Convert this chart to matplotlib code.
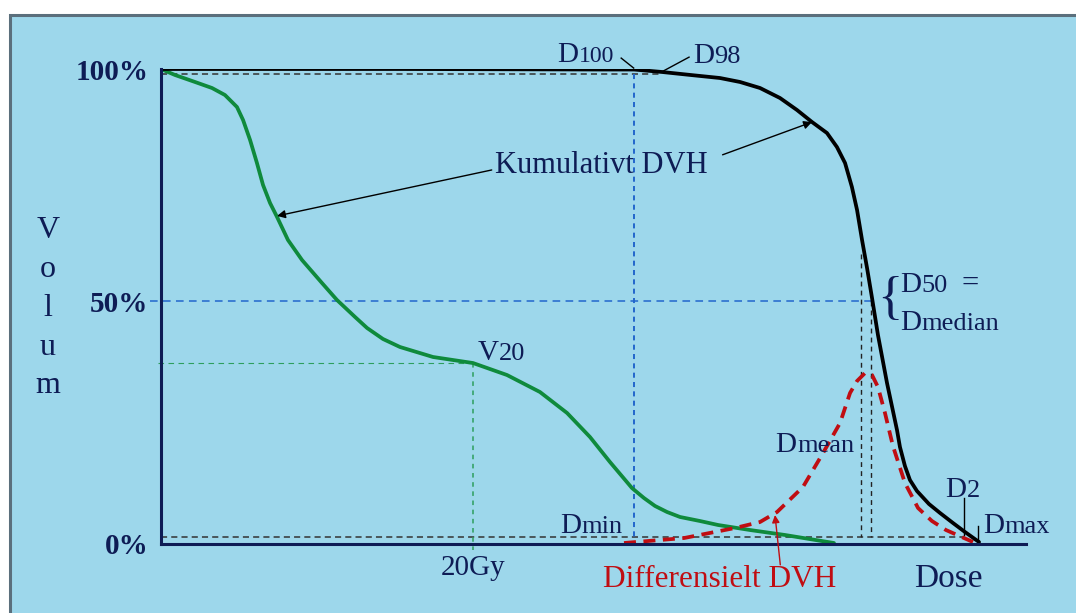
import matplotlib
matplotlib.use("Agg")
import matplotlib.pyplot as plt
from matplotlib.patches import Rectangle

plt.rcParams["font.family"] = ["Liberation Serif", "DejaVu Serif"]

# cumulative DVH of the target (black)
dose_target = [0, 15.32, 28.14, 30.32, 32.12, 33.97, 35.83, 37.12, 38.40, 39.68, 40.77,
               41.73, 42.69, 43.33, 43.85, 44.29, 44.62, 44.94, 45.26, 45.58, 45.96,
               46.54, 47.18, 47.37, 47.69, 48.01, 48.46, 49.23, 49.94, 50.77, 51.54, 52.44]
vol_target = [100, 100, 99.89, 99.89, 99.37, 98.73, 98.10, 97.26, 95.99, 93.88, 91.35,
              88.82, 86.50, 83.54, 80.17, 75.11, 70.25, 63.92, 58.02, 51.69, 43.88,
              33.76, 23.84, 20.25, 16.24, 13.29, 10.97, 8.23, 6.33, 4.22, 2.32, 0.21]

# cumulative DVH of an organ at risk (green)
dose_oar = [0, 0.90, 2.18, 3.27, 4.10, 4.87, 5.26, 5.71, 6.15, 6.54, 6.99, 7.44, 8.14,
            9.04, 10.32, 11.28, 12.44, 13.21, 14.23, 15.32, 17.44, 20.0, 22.18, 24.29,
            26.03, 27.50, 28.78, 30.19, 30.96, 31.67, 32.44, 33.27, 34.55, 35.71, 37.76,
            40.0, 43.14]
vol_oar = [100, 98.73, 97.26, 95.99, 94.51, 91.98, 89.24, 85.02, 80.17, 75.53, 71.73,
           68.78, 63.92, 59.70, 54.85, 51.27, 47.68, 45.36, 43.04, 41.35, 39.24, 37.97,
           35.44, 31.86, 27.43, 22.36, 17.09, 11.60, 9.49, 7.81, 6.54, 5.49, 4.64, 3.80,
           2.74, 1.69, 0]

# differential DVH (red dashed)
dose_diff = [29.68, 33.53, 36.79, 38.40, 39.49, 41.15, 42.44, 43.53, 44.17, 44.62, 45.13,
             45.58, 45.96, 46.41, 46.92, 47.69, 48.53, 49.42, 50.32, 52.05]
vol_diff = [0, 1.05, 3.16, 4.43, 6.54, 11.81, 18.99, 25.32, 31.65, 34.18, 35.86,
            35.44, 32.91, 27.43, 20.46, 12.66, 7.38, 4.64, 2.74, 0.21]

# reference doses / volumes
d100, d98, d2, dmax = 30.3, 32.1, 51.5, 52.4
dmean, dmedian = 44.9, 45.5
v20_dose, v20_vol = 20, 38.0
hi_level, lo_level, mid_level = 98.9, 1.3, 51.0

vol_ticks = [0, 51, 100]
vol_labels = ["0%", "50%", "100%"]
dose_ticks = [20]
dose_labels = ["20Gy"]

NAVY = "#0e1c55"
RED = "#c00d12"
GREEN = "#0f8a3c"
BLUE = "#2266cc"

W, H = 1076, 613
fig = plt.figure(figsize=(W / 100, H / 100), dpi=100, facecolor="white")
fig.add_artist(Rectangle((9.5 / W, -0.05), 1.1, (H - 14.5) / H + 0.05,
                         transform=fig.transFigure, facecolor="#9dd7eb",
                         edgecolor="#5b6f7c", linewidth=2.2, zorder=-10))

ax = fig.add_axes([161 / W, 69 / H, 865 / W, 475 / H])
ax.set_facecolor("none")
ax.set_xlim(0, 55.45)
ax.set_ylim(-0.21, 100)
for side in ["top", "right"]:
    ax.spines[side].set_visible(False)
for side in ["left", "bottom"]:
    ax.spines[side].set_color(NAVY)
    ax.spines[side].set_linewidth(2.2)
    ax.spines[side].set_capstyle("projecting")

ax.set_yticks(vol_ticks)
ax.set_yticklabels(vol_labels, fontsize=21, fontweight="bold", color=NAVY)
ax.set_xticks(dose_ticks)
ax.set_xticklabels(dose_labels, fontsize=21, color=NAVY)
ax.tick_params(axis="y", length=0, pad=9)
ax.tick_params(axis="x", length=0, pad=8)

# guide lines
ax.plot([0, d98], [hi_level, hi_level], color="#333333", lw=1.1, dashes=(4, 2.7))
ax.plot([0, d2], [lo_level, lo_level], color="#333333", lw=1.1, dashes=(4, 2.7))
ax.plot([-0.7, dmedian], [mid_level, mid_level], color=BLUE, lw=1.1, dashes=(5, 3.5),
        clip_on=False)
ax.plot([d100, d100], [hi_level, lo_level], color=BLUE, lw=1.4, dashes=(2.6, 2.2))
ax.plot([-0.2, v20_dose], [v20_vol, v20_vol], color="#2e9e5e", lw=0.8, dashes=(5, 4),
        clip_on=False)
ax.plot([v20_dose, v20_dose], [v20_vol, -1.5], color="#2e9e5e", lw=1.1, dashes=(3, 3),
        clip_on=False)
ax.plot([dmean, dmean], [61, lo_level], color="#222222", lw=1.0, dashes=(3.5, 3))
ax.plot([dmedian, dmedian], [mid_level, lo_level], color="#222222", lw=1.0, dashes=(3.5, 3))

# curves
ax.plot(dose_oar, vol_oar, color=GREEN, lw=2.7, solid_capstyle="round",
        solid_joinstyle="round")
ax.plot(dose_diff, vol_diff, color=RED, lw=2.7, dashes=(3.2, 2.0))
ax.plot(dose_target, vol_target, color="black", lw=2.7, solid_capstyle="round",
        solid_joinstyle="round")


def dlabel(x, y, main, sub, size=21, sub_size=19, color=NAVY):
    ax.text(x, y, main, fontsize=size, color=color, va="baseline", ha="left",
            clip_on=False)
    ax.annotate(sub, (x, y), xytext=(0.73 * size, 0), textcoords="offset points",
                fontsize=sub_size, color=color, va="baseline", ha="left",
                annotation_clip=False)


dlabel(25.4, 101.5, "D", "100", sub_size=17)
dlabel(34.1, 101.3, "D", "98")
dlabel(20.3, 38.6, "V", "20")
dlabel(25.6, 2.1, "D", "min")
dlabel(39.4, 19.2, "D", "mean")
dlabel(47.4, 53.0, "D", "50")
ax.annotate("=", (47.4, 53.0), xytext=(44, 0), textcoords="offset points",
            fontsize=22, color=NAVY, va="baseline")
dlabel(47.4, 44.9, "D", "median")
ax.text(45.9, 51.2, "{", fontsize=38, color=NAVY, va="center", ha="left")
dlabel(50.3, 9.7, "D", "2")
dlabel(52.7, 2.1, "D", "max")

# leader lines
ax.plot([29.5, d100], [102.3, 100.2], color="black", lw=1.0, clip_on=False)
ax.plot([33.85, d98], [102.5, 99.4], color="black", lw=1.0, clip_on=False)
ax.plot([d2, d2], [9.5, 1.7], color="black", lw=1.0)
ax.plot([dmax, dmax], [3.6, 0.2], color="black", lw=1.0)

arrow = dict(arrowstyle="-|>", lw=1.0, color="black", mutation_scale=12,
             shrinkA=0, shrinkB=0)
ax.text(21.4, 78.1, "Kumulativt DVH", fontsize=22, color=NAVY, va="baseline")
ax.annotate("", xy=(7.44, 69.0), xytext=(21.2, 78.7), arrowprops=arrow)
ax.annotate("", xy=(41.73, 88.8), xytext=(36.0, 81.9), arrowprops=arrow)

ax.text(35.8, -7.8, "Differensielt DVH", fontsize=22.5, color=RED, ha="center",
        va="center", clip_on=False)
ax.annotate("", xy=(39.36, 5.9), xytext=(39.7, -4.6),
            arrowprops=dict(arrowstyle="-|>", lw=1.0, color=RED, mutation_scale=11,
                            shrinkA=0, shrinkB=0), annotation_clip=False)
ax.text(50.45, -7.6, "Dose", fontsize=24, color=NAVY, ha="center", va="center",
        clip_on=False)

for i, ch in enumerate("Volum"):
    ax.text(-7.24, 64.3 - 8.18 * i, ch, fontsize=23, color=NAVY, ha="center",
            va="baseline", clip_on=False)

fig.savefig("out.png", dpi=100, facecolor=fig.get_facecolor())
